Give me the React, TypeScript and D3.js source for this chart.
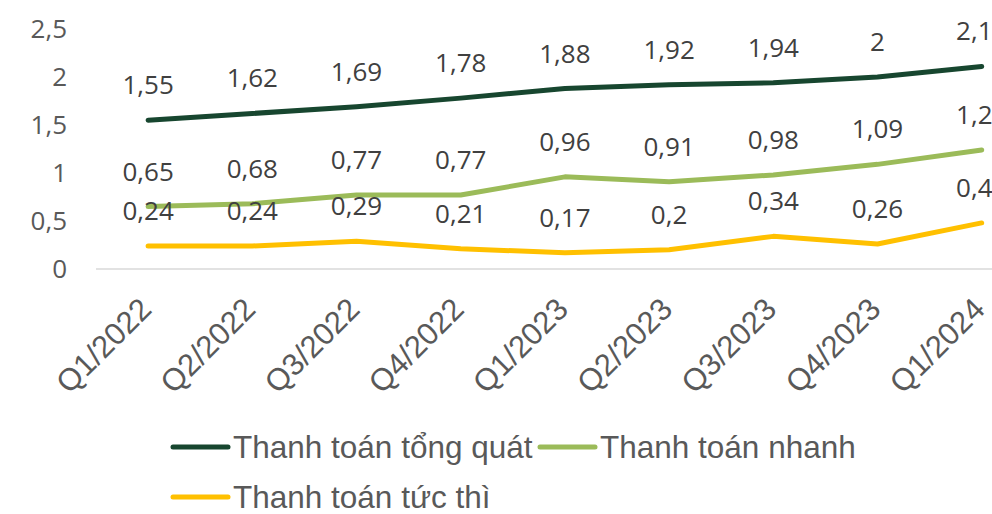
import React from "react";
import * as d3 from "d3";

const categories = ["Q1/2022", "Q2/2022", "Q3/2022", "Q4/2022", "Q1/2023", "Q2/2023", "Q3/2023", "Q4/2023", "Q1/2024"];
const tongQuat = [1.55, 1.62, 1.69, 1.78, 1.88, 1.92, 1.94, 2, 2.11];
const nhanh = [0.65, 0.68, 0.77, 0.77, 0.96, 0.91, 0.98, 1.09, 1.24];
const tucThi = [0.24, 0.24, 0.29, 0.21, 0.17, 0.2, 0.34, 0.26, 0.48];
const yTicks = [0, 0.5, 1, 1.5, 2, 2.5];
const seriesNames = ["Thanh toán tổng quát", "Thanh toán nhanh", "Thanh toán tức thì"];
const seriesColors = ["#17462f", "#9bbb59", "#ffc000"];

const W = 992;
const H = 514;

export default function App() {
  const series = [tongQuat, nhanh, tucThi];
  const x = d3.scaleBand<string>().domain(categories).range([96, 96 + 104.2 * 9]);
  const y = d3.scaleLinear().domain([0, 2.5]).range([269, 29]);
  const cx = (c: string) => (x(c) as number) + x.bandwidth() / 2;
  const line = d3
    .line<number>()
    .x((_, i) => cx(categories[i]))
    .y((d) => y(d));
  const fmt = (v: number) => String(v).replace(".", ",");
  const labelFont = "'Open Sans', sans-serif";
  const axisFont = "'Liberation Sans', Arial, sans-serif";

  const legend = [
    { x: 173, y: 447 },
    { x: 540, y: 447 },
    { x: 173, y: 497 },
  ];

  return (
    <svg
      width={W}
      height={H}
      style={{ position: "absolute", left: 0, top: 0, background: "#fff" }}
    >
      <line x1={96} x2={W} y1={y(0)} y2={y(0)} stroke="#d9d9d9" strokeWidth={1.5} />
      {yTicks.map((t) => (
        <text
          key={t}
          x={67}
          y={y(t)}
          dy="0.36em"
          textAnchor="end"
          fontFamily={labelFont}
          fontSize={26}
          fill="#595959"
        >
          {fmt(t)}
        </text>
      ))}
      {categories.map((c) => (
        <text
          key={c}
          transform={`translate(${cx(c) + 5},311) rotate(-45)`}
          textAnchor="end"
          fontFamily={axisFont}
          fontSize={31}
          fill="#595959"
        >
          {c}
        </text>
      ))}
      {series.map((s, k) => (
        <path
          key={k}
          d={line(s) || ""}
          fill="none"
          stroke={seriesColors[k]}
          strokeWidth={5}
          strokeLinecap="round"
          strokeLinejoin="round"
        />
      ))}
      {series.map((s, k) =>
        s.map((v, i) => (
          <text
            key={k + "-" + i}
            x={cx(categories[i])}
            y={y(v) - 26}
            textAnchor="middle"
            fontFamily={labelFont}
            fontSize={26}
            fill="#404040"
          >
            {fmt(v)}
          </text>
        ))
      )}
      {seriesNames.map((n, k) => (
        <g key={n}>
          <line
            x1={legend[k].x}
            x2={legend[k].x + 55}
            y1={legend[k].y}
            y2={legend[k].y}
            stroke={seriesColors[k]}
            strokeWidth={5}
            strokeLinecap="round"
          />
          <text
            x={legend[k].x + 60}
            y={legend[k].y}
            dy="0.36em"
            fontFamily={axisFont}
            fontSize={31.5}
            fill="#595959"
          >
            {n}
          </text>
        </g>
      ))}
    </svg>
  );
}
